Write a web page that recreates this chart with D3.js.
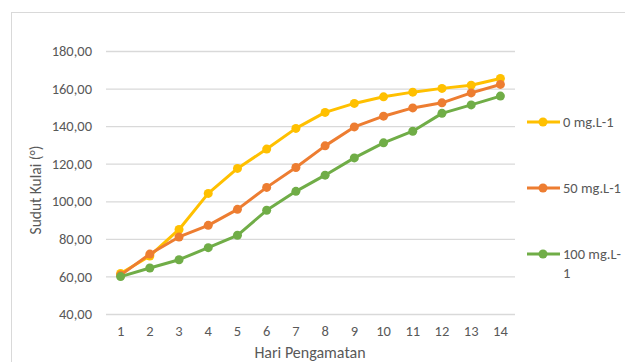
<!DOCTYPE html>
<html><head><meta charset="utf-8">
<script src="https://cdn.jsdelivr.net/npm/d3@7"></script>
<style>body{margin:0;background:#fff}svg{display:block}</style>
</head><body>
<svg id="c" width="625" height="362"></svg>
<script>
const days = [1,2,3,4,5,6,7,8,9,10,11,12,13,14];
const s0 = [61.6,70.9,85.0,104.2,117.5,127.8,138.8,147.3,152.1,155.6,158.1,160.1,161.8,165.4];
const s50 = [60.7,71.9,81.0,87.2,95.7,107.4,118.0,129.5,139.6,145.3,149.7,152.4,157.7,162.2];
const s100 = [59.9,64.5,68.9,75.3,81.9,95.2,105.3,113.9,123.1,131.1,137.3,146.8,151.3,156.0];
const seriesNames = ["0 mg.L-1","50 mg.L-1","100 mg.L-1"];
const colors = ["#FFC000","#ED7D31","#70AD47"];
const yTicks = [40,60,80,100,120,140,160,180];
const series = [s0,s50,s100];

const svg = d3.select("#c");
const font = "Carlito, Calibri, Lato, sans-serif";
svg.append("rect").attr("x",11.5).attr("y",12.5).attr("width",700).attr("height",400)
  .attr("fill","none").attr("stroke","#D9D9D9");

const x = d3.scaleBand().domain(days).range([106,515]);
const y = d3.scaleLinear().domain([40,180]).range([314,51]);

const gy = svg.append("g").attr("transform","translate(106,0)")
  .call(d3.axisLeft(y).tickValues(yTicks).tickSize(-409).tickPadding(14)
    .tickFormat(d=>d3.format(".2f")(d).replace(".",",")));
gy.select(".domain").remove();
gy.selectAll("line").attr("stroke","#D9D9D9").attr("stroke-width",1.3);
gy.selectAll("text").attr("fill","#595959").style("font-family",font).style("font-size","14.5px");

const gx = svg.append("g").attr("transform","translate(0,314)")
  .call(d3.axisBottom(x).tickSize(0).tickPadding(12));
gx.select(".domain").remove();
gx.selectAll("text").attr("fill","#595959").style("font-family",font).style("font-size","14.5px");

svg.append("text").attr("x",310).attr("y",358).attr("text-anchor","middle")
  .attr("fill","#595959").style("font-family",font).style("font-size","16px").text("Hari Pengamatan");
svg.append("text").attr("transform","translate(41,190) rotate(-90)").attr("text-anchor","middle")
  .attr("fill","#595959").style("font-family",font).style("font-size","15.5px").text("Sudut Kulai (°)");

const line = d3.line().x((d,i)=>x(days[i])+x.bandwidth()/2).y(d=>y(d));
series.forEach((s,k)=>{
  svg.append("path").datum(s).attr("d",line).attr("fill","none")
    .attr("stroke",colors[k]).attr("stroke-width",3).attr("stroke-linejoin","round").attr("stroke-linecap","round");
  svg.selectAll(null).data(s).enter().append("circle")
    .attr("cx",(d,i)=>x(days[i])+x.bandwidth()/2).attr("cy",d=>y(d)).attr("r",4.5).attr("fill",colors[k]);
});

const ly = [122,188,254];
seriesNames.forEach((n,k)=>{
  const g = svg.append("g");
  g.append("line").attr("x1",527).attr("x2",560).attr("y1",ly[k]).attr("y2",ly[k])
    .attr("stroke",colors[k]).attr("stroke-width",3);
  g.append("circle").attr("cx",543).attr("cy",ly[k]).attr("r",4.5).attr("fill",colors[k]);
  const t = g.append("text").attr("x",563).attr("y",ly[k]+5).attr("fill","#595959")
    .style("font-family",font).style("font-size","14.5px");
  if (k===2) {
    t.text("100 mg.L-");
    g.append("text").attr("x",563).attr("y",ly[k]+24).attr("fill","#595959")
      .style("font-family",font).style("font-size","14.5px").text("1");
  } else t.text(n);
});
</script>
</body></html>
